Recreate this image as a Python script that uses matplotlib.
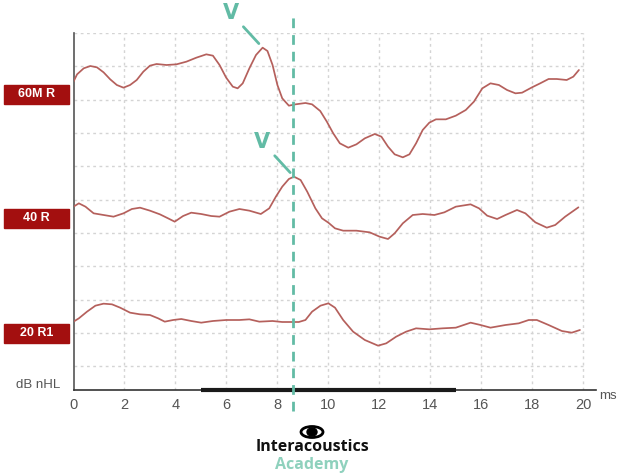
import matplotlib
matplotlib.use("Agg")
import matplotlib.pyplot as plt
from matplotlib.patches import Rectangle, Ellipse

# ABR traces, amplitude in grid divisions relative to each label's baseline
t_60 = [0.0, 0.14, 0.40, 0.66, 0.92, 1.18, 1.44, 1.70, 1.96, 2.22, 2.48, 2.74,
        3.0, 3.26, 3.65, 4.04, 4.43, 4.82, 5.21, 5.47, 5.73, 5.99, 6.25, 6.44,
        6.64, 6.90, 7.16, 7.42, 7.61, 7.81, 8.0, 8.19, 8.45, 8.71, 9.10, 9.36,
        9.68, 9.94, 10.19, 10.45, 10.78, 11.10, 11.43, 11.82, 12.08, 12.34,
        12.60, 12.92, 13.18, 13.44, 13.70, 13.96, 14.22, 14.61, 15.0, 15.39,
        15.71, 16.04, 16.36, 16.69, 17.01, 17.34, 17.60, 17.99, 18.31, 18.64,
        18.96, 19.35, 19.61, 19.83]
a_60 = [0.37, 0.59, 0.77, 0.84, 0.80, 0.65, 0.44, 0.27, 0.19, 0.27, 0.42, 0.67,
        0.85, 0.90, 0.87, 0.89, 0.97, 1.09, 1.19, 1.15, 0.87, 0.49, 0.22, 0.17,
        0.32, 0.77, 1.17, 1.39, 1.29, 0.87, 0.27, -0.13, -0.35, -0.31, -0.27,
        -0.31, -0.51, -0.83, -1.18, -1.48, -1.61, -1.51, -1.33, -1.20, -1.28,
        -1.58, -1.81, -1.90, -1.81, -1.48, -1.08, -0.86, -0.76, -0.76, -0.65,
        -0.48, -0.23, 0.17, 0.32, 0.27, 0.12, 0.02, 0.04, 0.20, 0.32, 0.45,
        0.45, 0.42, 0.52, 0.72]

t_40 = [0.0, 0.21, 0.47, 0.79, 1.18, 1.57, 1.96, 2.29, 2.61, 3.0, 3.39, 3.71,
        3.97, 4.30, 4.62, 5.01, 5.40, 5.73, 6.12, 6.51, 6.90, 7.35, 7.68, 7.94,
        8.19, 8.45, 8.65, 8.91, 9.17, 9.49, 9.75, 10.0, 10.26, 10.58, 11.10,
        11.62, 12.01, 12.34, 12.60, 12.92, 13.31, 13.70, 14.16, 14.55, 15.0,
        15.58, 15.91, 16.23, 16.62, 16.95, 17.40, 17.73, 18.12, 18.57, 18.90,
        19.29, 19.81]
a_40 = [0.34, 0.44, 0.34, 0.14, 0.09, 0.04, 0.14, 0.27, 0.31, 0.22, 0.11, -0.01,
        -0.11, 0.06, 0.16, 0.12, 0.06, 0.04, 0.19, 0.27, 0.22, 0.12, 0.29, 0.64,
        0.94, 1.17, 1.24, 1.14, 0.79, 0.29, -0.01, -0.14, -0.31, -0.38, -0.38,
        -0.43, -0.56, -0.63, -0.46, -0.16, 0.09, 0.12, 0.09, 0.17, 0.34, 0.41,
        0.29, 0.07, -0.03, 0.09, 0.24, 0.14, -0.13, -0.29, -0.21, 0.04, 0.32]

t_20 = [0.0, 0.21, 0.53, 0.86, 1.18, 1.51, 1.83, 2.22, 2.61, 3.0, 3.32, 3.58,
        3.91, 4.23, 4.62, 5.01, 5.47, 5.99, 6.51, 6.90, 7.29, 7.81, 8.19, 8.84,
        9.10, 9.36, 9.69, 10.0, 10.26, 10.58, 10.97, 11.43, 11.95, 12.27, 12.66,
        13.05, 13.44, 13.96, 14.48, 15.0, 15.58, 15.97, 16.36, 16.95, 17.47,
        17.86, 18.18, 18.64, 19.16, 19.55, 19.87]
a_20 = [0.34, 0.44, 0.64, 0.82, 0.88, 0.86, 0.76, 0.61, 0.56, 0.54, 0.44, 0.34,
        0.39, 0.42, 0.36, 0.31, 0.36, 0.39, 0.39, 0.41, 0.34, 0.36, 0.33, 0.33,
        0.39, 0.64, 0.82, 0.89, 0.76, 0.39, 0.04, -0.21, -0.38, -0.31, -0.11,
        0.04, 0.14, 0.11, 0.14, 0.16, 0.31, 0.24, 0.16, 0.24, 0.29, 0.39, 0.39,
        0.24, 0.06, 0.01, 0.09]

labels = ["60M R", "40 R", "20 R1"]
baselines = [8.88, 5.16, 1.71]
x_ticks = [0, 2, 4, 6, 8, 10, 12, 14, 16, 18, 20]
wave_v_latency = 8.63

W, H = 619, 473
trace_col = "#b5605c"
teal = "#62bba5"
label_red = "#a30f0f"

fig = plt.figure(figsize=(W / 100, H / 100), dpi=100)
ax = fig.add_axes([73.5 / W, 1 - 390 / H, (596 - 73.5) / W, (390 - 33) / H])
ax.set_xlim(0, 20.5)
ax.set_ylim(0, 10.71)

# dotted grid
for gx in x_ticks[1:]:
    ax.plot([gx, gx], [0, 10.71], color="#d4d4d4", lw=1, ls=(0, (2, 2.5)), zorder=1)
for k in range(11):
    gy = 10.71 - k
    ax.plot([0, 20], [gy, gy], color="#d4d4d4", lw=1, ls=(0, (2, 2.5)), zorder=1)

for t, a, base in zip([t_60, t_40, t_20], [a_60, a_40, a_20], baselines):
    ax.plot(t, [base + v for v in a], color=trace_col, lw=1.25, zorder=3,
            solid_joinstyle="round", solid_capstyle="round")

for s in ["top", "right"]:
    ax.spines[s].set_visible(False)
ax.spines["left"].set_color("#555555")
ax.spines["bottom"].set_color("#333333")
ax.spines["left"].set_linewidth(1.2)
ax.spines["bottom"].set_linewidth(1.2)

ax.plot([5, 15], [0, 0], color="#1a1a1a", lw=3, solid_capstyle="butt",
        clip_on=False, zorder=4)

ax.set_xticks(x_ticks)
ax.set_xticklabels([str(v) for v in x_ticks], family="Liberation Sans",
                   fontsize=10.5, color="#555555")
ax.tick_params(axis="x", length=0, pad=6)
ax.set_yticks([])

# wave V marker
ax.plot([wave_v_latency, wave_v_latency], [-0.63, 11.25], color=teal, lw=2,
        ls=(0, (3.5, 2.5)), clip_on=False, zorder=5)

peak60 = max(zip(t_60, a_60), key=lambda p: p[1] if 6.5 < p[0] < 8.5 else -9)
peak40 = max(zip(t_40, a_40), key=lambda p: p[1])
for (pt, pa), base in [(peak60, baselines[0]), (peak40, baselines[1])]:
    ax.annotate("V", xy=(pt, base + pa), xytext=(-23, 25), textcoords="offset points",
                ha="center", va="center", fontsize=15, fontweight="bold", color=teal,
                family="DejaVu Sans", annotation_clip=False,
                arrowprops=dict(arrowstyle="-", color=teal, lw=2,
                                shrinkA=2, shrinkB=4))

# label boxes on the left
for lab, base in zip(labels, baselines):
    py = 390 - base * 33.33
    fig.patches.append(Rectangle((4 / W, 1 - (py + 9.5) / H), 65 / W, 19 / H,
                                 transform=fig.transFigure, color=label_red))
    fig.text(36.5 / W, 1 - py / H, lab, ha="center", va="center", color="white",
             fontsize=9, fontweight="bold", family="Liberation Sans")

fig.text(60 / W, 1 - 385 / H, "dB nHL", ha="right", va="center", fontsize=9.5,
         color="#555555", family="Liberation Sans")
fig.text(599 / W, 1 - 396 / H, "ms", ha="left", va="center", fontsize=9.5,
         color="#555555", family="Liberation Sans")

# logo
fig.patches.append(Ellipse((312 / W, 1 - 432 / H), 22 / W, 11 / H,
                           transform=fig.transFigure, fill=False,
                           edgecolor="black", lw=2))
fig.patches.append(Ellipse((312 / W, 1 - 432 / H), 10 / W, 8 / H,
                           transform=fig.transFigure, color="black"))
fig.text(312 / W, 1 - 447 / H, "Interacoustics", ha="center", va="center",
         fontsize=11.5, fontweight="bold", color="#111111", family="Open Sans")
fig.text(312 / W, 1 - 465 / H, "Academy", ha="center", va="center",
         fontsize=11.5, fontweight="bold", color="#8fd1bd", family="Open Sans")

fig.savefig("out.png", dpi=100)
